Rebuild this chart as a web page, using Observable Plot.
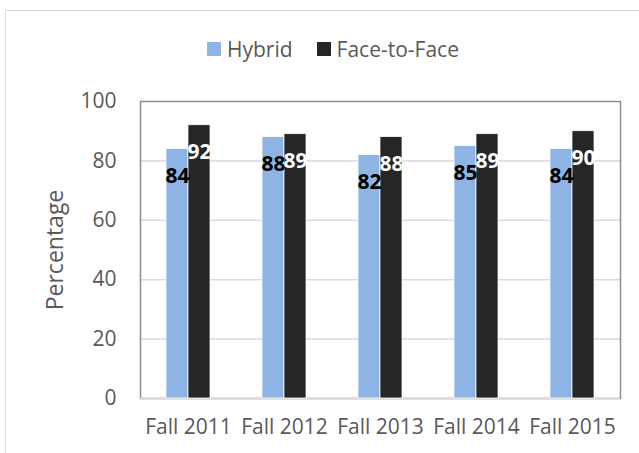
<!DOCTYPE html>
<html><head><meta charset="utf-8">
<script src="https://cdn.jsdelivr.net/npm/d3@7"></script>
<script src="https://cdn.jsdelivr.net/npm/@observablehq/plot@0.6"></script>
<style>
html,body{margin:0;padding:0;background:#fff;overflow:hidden}
#wrap{position:relative;width:639px;height:453px;font-family:"Open Sans",sans-serif;color:#595959}
#border{position:absolute;left:5px;top:10px;width:700px;height:500px;border-top:1.5px solid #d9d9d9;border-left:1.5px solid #d9d9d9;pointer-events:none}
#legend{position:absolute;top:35px;left:207px;display:flex;align-items:center;font-size:21px;line-height:28px}
#legend .item{display:flex;align-items:center;margin-right:24px}
#legend .sw{width:14px;height:14px;margin-right:6px}
#chart{position:absolute;left:0;top:0}
</style></head>
<body>
<div id="wrap"><div id="chart"></div><div id="border"></div><div id="legend"></div></div>
<script>
const years = ["Fall 2011","Fall 2012","Fall 2013","Fall 2014","Fall 2015"];
const seriesNames = ["Hybrid","Face-to-Face"];
const hybrid = [84, 88, 82, 85, 84];
const faceToFace = [92, 89, 88, 89, 90];
const yTicks = [0, 20, 40, 60, 80, 100];
const yLabel = "Percentage";
const colors = ["#8db4e2", "#262626"];
const labelColors = ["#000000", "#ffffff"];

const rows = years.flatMap((yr, i) => [
  {year: yr, series: seriesNames[0], value: hybrid[i]},
  {year: yr, series: seriesNames[1], value: faceToFace[i]}
]);

const legend = document.getElementById("legend");
seriesNames.forEach((s, i) => {
  const it = document.createElement("div"); it.className = "item";
  const sw = document.createElement("div"); sw.className = "sw"; sw.style.background = colors[i];
  const t = document.createElement("span"); t.textContent = s;
  it.appendChild(sw); it.appendChild(t); legend.appendChild(it);
});

const chart = Plot.plot({
  width: 639, height: 453,
  marginLeft: 140, marginRight: 19, marginTop: 101, marginBottom: 55,
  style: {fontFamily: "Open Sans, sans-serif", fontSize: "21px", color: "#595959", background: "transparent"},
  fx: {domain: years, padding: 0, label: null},
  x: {domain: seriesNames, paddingInner: 0, paddingOuter: 1.087, axis: null},
  y: {domain: [0, 100], label: null},
  color: {domain: seriesNames, range: colors},
  marks: [
    Plot.ruleY(yTicks.filter(d => d > 0 && d < 100), {stroke: "#d9d9d9", strokeWidth: 1.5}),
    Plot.frame({facet: "super", stroke: "#8c8c8c", strokeWidth: 1.5}),
    Plot.ruleY([0], {stroke: "#d9d9d9", strokeWidth: 2}),
    Plot.barY(rows, {fx: "year", x: "series", y: "value", fill: "series", stroke: "white", strokeWidth: 0.75}),
    Plot.text(rows.filter(d => d.series === seriesNames[0]), {fx: "year", x: "series", y: "value", text: d => String(d.value), dy: 27, fill: labelColors[0], fontWeight: "bold", fontSize: 21}),
    Plot.text(rows.filter(d => d.series === seriesNames[1]), {fx: "year", x: "series", y: "value", text: d => String(d.value), dy: 27, fill: labelColors[1], fontWeight: "bold", fontSize: 21}),
    Plot.axisY({ticks: yTicks, tickSize: 0, tickPadding: 24, label: null, fill: "#595959", fontSize: 21}),
    Plot.axisFx({anchor: "bottom", tickSize: 0, tickPadding: 21, label: null, fill: "#595959", fontSize: 21}),
    Plot.text([yLabel], {facet: "super", frameAnchor: "left", textAnchor: "middle", dx: -85, rotate: -90, fontSize: 23, fill: "#595959"})
  ]
});
document.getElementById("chart").appendChild(chart);
</script>
</body></html>
